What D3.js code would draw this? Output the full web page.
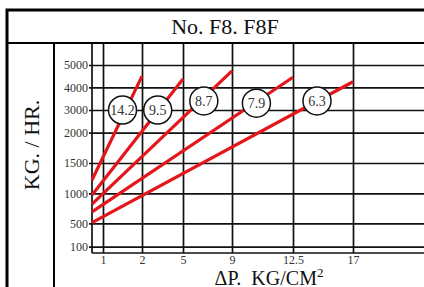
<!DOCTYPE html>
<html>
<head>
<meta charset="utf-8">
<script src="https://cdn.jsdelivr.net/npm/d3@7"></script>
<style>
body { margin: 0; background: #fff; }
text { font-family: "Liberation Serif", "Times New Roman", serif; }
</style>
</head>
<body>
<svg id="chart" width="424" height="287"></svg>
<script>
var title = "No. F8. F8F";
var yLabel = "KG. / HR.";
var yTicks = [100, 500, 1000, 1500, 2000, 3000, 4000, 5000];
var xTicks = [1, 2, 5, 9, 12.5, 17];
// one red line per orifice: flow at dP=0 up to flow at its max dP
var orifices = ["14.2", "9.5", "8.7", "7.9", "6.3"];
var startFlow = [1220, 970, 820, 690, 510];
var endDP = [2, 5, 9, 12.5, 17];
var endFlow = [4500, 4370, 4740, 4450, 4250];
// where each orifice tag sits, in chart units
var tagDP = [1.5, 3.15, 6.7, 10.4, 14.3];
var tagFlow = [3000, 3000, 3400, 3300, 3400];

var W = 424, H = 287;
var svg = d3.select("#chart");

// chart paper is not evenly ruled, so piecewise scales
var x = d3.scaleLinear()
    .domain([0].concat(xTicks))
    .range([92, 103, 142, 183, 232, 293, 353]);
var y = d3.scaleLinear()
    .domain([0].concat(yTicks))
    .range([253, 246.7, 223.3, 193.3, 163, 132.7, 110, 87.3, 65]);
var gridTop = 43;

// frame
svg.append("rect")
    .attr("x", 7).attr("y", 10)
    .attr("width", W + 10).attr("height", H + 10)
    .attr("fill", "none").attr("stroke", "#000").attr("stroke-width", 3)
;
svg.append("line")
    .attr("x1", 7).attr("x2", W).attr("y1", gridTop).attr("y2", gridTop)
    .attr("stroke", "#000").attr("stroke-width", 2)
;
svg.append("line")
    .attr("x1", 54).attr("x2", 54).attr("y1", gridTop).attr("y2", H)
    .attr("stroke", "#000").attr("stroke-width", 2)
;

svg.append("text")
    .attr("x", 225).attr("y", 34)
    .attr("text-anchor", "middle")
    .attr("font-size", "22px")
    .attr("fill", "#111")
    .text(title)
;
svg.append("text")
    .attr("transform", "translate(38.5,145) rotate(-90)")
    .attr("text-anchor", "middle")
    .attr("font-size", "22px")
    .attr("fill", "#111")
    .text(yLabel)
;

// grid via axes
var gy = svg.append("g")
    .attr("transform", "translate(89,0)")
    .call(d3.axisLeft(y).tickValues(yTicks).tickSize(-(W - 89)).tickPadding(1).tickFormat(String))
;
var gx = svg.append("g")
    .attr("transform", "translate(0," + y(0) + ")")
    .call(d3.axisBottom(x).tickValues(xTicks).tickSize(-(y(0) - gridTop)).tickPadding(2).tickFormat(String))
;
[gy, gx].forEach(function (g) {
    g.select(".domain").remove();
    g.selectAll(".tick line").attr("stroke", "#111").attr("stroke-width", 1.7);
    g.selectAll(".tick text")
        .attr("font-family", "'Liberation Serif', serif")
        .attr("font-size", "12px")
        .attr("fill", "#333");
});

svg.append("line")
    .attr("x1", x(0)).attr("x2", x(0)).attr("y1", gridTop).attr("y2", y(0))
    .attr("stroke", "#111").attr("stroke-width", 1.7)
;
svg.append("line")
    .attr("x1", x(0)).attr("x2", W).attr("y1", y(0)).attr("y2", y(0))
    .attr("stroke", "#111").attr("stroke-width", 1.7)
;

// axis title
var xt = svg.append("text")
    .attr("x", 269).attr("y", 285)
    .attr("text-anchor", "middle")
    .attr("font-size", "20px")
    .attr("fill", "#111")
;
xt.append("tspan").text("\u0394P.");
xt.append("tspan").attr("dx", 10).text("KG/CM");
xt.append("tspan").attr("font-size", "13px").attr("dy", -8).text("2");

// flow lines
var line = d3.line()
    .x(function (d) { return x(d[0]); })
    .y(function (d) { return y(d[1]); })
;
svg.append("g").selectAll("path")
    .data(orifices)
    .enter().append("path")
    .attr("d", function (d, i) { return line([[0, startFlow[i]], [endDP[i], endFlow[i]]]); })
    .attr("fill", "none")
    .attr("stroke", "#e3161b")
    .attr("stroke-width", 3.2)
;

// orifice tags
var tags = svg.append("g").selectAll("g")
    .data(orifices)
    .enter().append("g")
    .attr("transform", function (d, i) { return "translate(" + x(tagDP[i]) + "," + y(tagFlow[i]) + ")"; })
;
tags.append("circle")
    .attr("r", 14)
    .attr("fill", "#fff")
    .attr("stroke", "#111")
    .attr("stroke-width", 1.5)
;
tags.append("text")
    .attr("text-anchor", "middle")
    .attr("dy", "0.35em")
    .attr("font-size", "14px")
    .attr("fill", "#333")
    .text(function (d) { return d; })
;
</script>
</body>
</html>
